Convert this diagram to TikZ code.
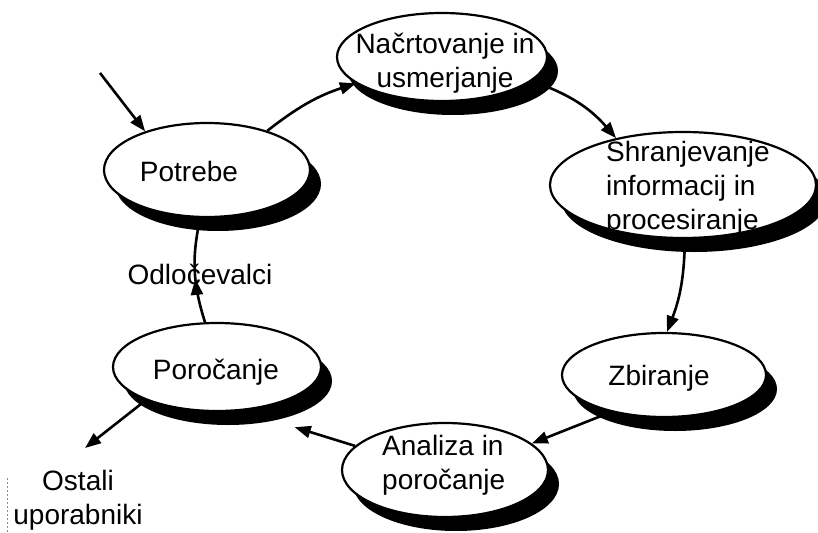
\documentclass[tikz,border=0pt]{standalone}
\usepackage{fontspec}
\setmainfont{Liberation Sans}
\usetikzlibrary{shapes.geometric,arrows.meta,decorations.markings}
\begin{document}
\begin{tikzpicture}[x=1pt,y=-1pt,
  blob/.style={ellipse, draw=black, line width=2.2pt, fill=white, inner sep=0pt},
  blobshadow/.style={ellipse, fill=black, inner sep=0pt},
  lbl/.style={font=\fontsize{28}{34}\selectfont, inner sep=0pt, text=black},
  tip/.style={-{Triangle[length=16pt,width=12pt]}},
  flow/.style={line width=2.6pt, tip},
  link/.style={line width=2.6pt}]
\useasboundingbox (0,0) rectangle (818,532);
\fill[white] (0,0) rectangle (818,532);

% ellipses with their offset black shadows
\node[blobshadow, minimum width=206pt, minimum height=94pt] (pot-s) at (218,184) {};
\node[blob,       minimum width=206pt, minimum height=94pt] (pot)   at (207,170) {};
\node[blobshadow, minimum width=210pt, minimum height=88pt] (nac-s) at (453,71) {};
\node[blob,       minimum width=210pt, minimum height=88pt] (nac)   at (442,57) {};
\node[blobshadow, minimum width=266pt, minimum height=106pt] (shr-s) at (694,199) {};
\node[blob,       minimum width=266pt, minimum height=106pt] (shr)   at (683,185) {};
\node[blobshadow, minimum width=204pt, minimum height=84pt] (zbi-s) at (675,389) {};
\node[blob,       minimum width=204pt, minimum height=84pt] (zbi)   at (664,375) {};
\node[blobshadow, minimum width=206pt, minimum height=94pt] (ana-s) at (456,484) {};
\node[blob,       minimum width=206pt, minimum height=94pt] (ana)   at (445,470) {};
\node[blobshadow, minimum width=208pt, minimum height=88pt] (por-s) at (228,381) {};
\node[blob,       minimum width=208pt, minimum height=88pt] (por)   at (217,367) {};

% texts
\node[lbl] (t-pot) at (189,171) {Potrebe};
\node[lbl, align=center] (t-nac) at (445,63) {Načrtovanje in\\usmerjanje};
\node[lbl, align=left, anchor=west] (t-shr) at (606,188) {Shranjevanje\\informacij in\\procesiranje};
\node[lbl] (t-zbi) at (659,378) {Zbiranje};
\node[lbl, align=left, anchor=west] (t-ana) at (382,465) {Analiza in\\poročanje};
\node[lbl] (t-por) at (216,372) {Poročanje};
\node[lbl] (t-odl) at (200,274) {Odločevalci};
\node[lbl, align=center] (t-ost) at (78,500) {Ostali\\uporabniki};

% free ends
\coordinate (in-start) at (100,73);
\coordinate (ost-tip) at (85,448);

% cycle connectors
\draw[flow] (in-start) -- (pot.148);
\draw[flow] (pot.33) to[bend left=10] (nac.197);
\draw[flow] (nac.345) to[bend left=15] (shr.145);
\draw[flow] (shr.272) to[bend left=10] (zbi.86);
\draw[flow] (zbi.215) -- (ana.17);
\draw[flow, shorten >=22pt] (ana.165) -- (por-s.319);
\draw[link, decoration={markings, mark=at position 0.42 with {\arrow{Triangle[length=16pt,width=12pt]}}},
      postaction={decorate}] (por.105) to[bend left=15] (pot.262);
\draw[flow] (por.205) -- (ost-tip);

% faint margin mark
\draw[black!45, line width=0.8pt, dash pattern=on 2pt off 2pt] (7,478) -- (7,532);
\end{tikzpicture}
\end{document}
